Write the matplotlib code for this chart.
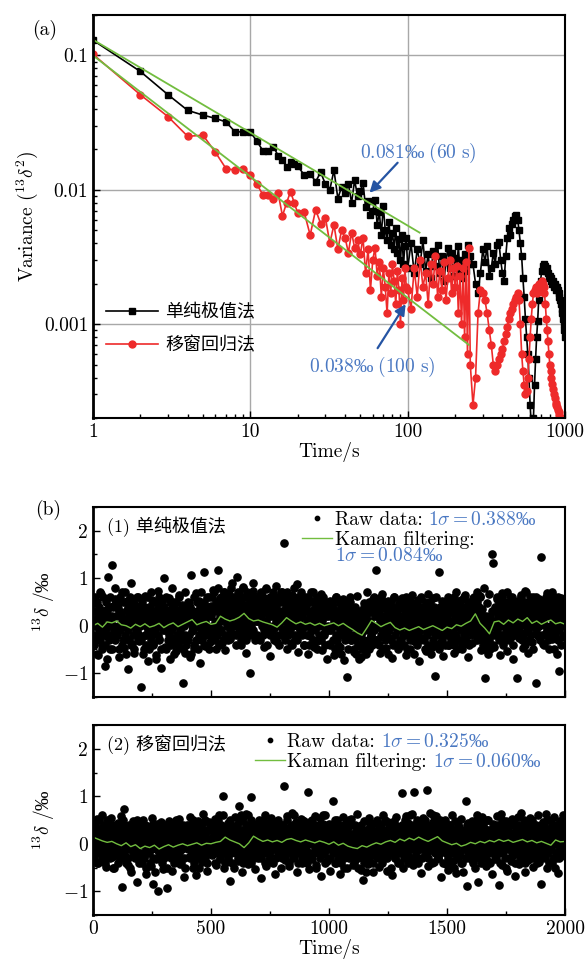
import numpy as np
import matplotlib.pyplot as plt
from matplotlib.ticker import NullFormatter, MultipleLocator, LogLocator

plt.rcParams['font.family'] = ['cmr10', 'DejaVu Serif', 'Noto Sans CJK SC']
plt.rcParams['mathtext.fontset'] = 'cm'
plt.rcParams['axes.formatter.use_mathtext'] = True
plt.rcParams['axes.unicode_minus'] = False

PERMIL_FONT = ['Liberation Serif', 'DejaVu Serif']

# ---- (a) Allan variance, values in units of 1e-3 ----
tau = np.concatenate([np.arange(1, 21), np.arange(22, 101, 2),
                      np.arange(105, 251, 5), np.arange(260, 1001, 10)])

black_e3 = [130, 76, 51, 39, 36, 34, 32, 27, 27, 27, 23, 19.6, 19.6, 21, 18, 16.7, 14.8, 16, 15.5, 15,
            12.9, 13.2, 11.5, 13.5, 11.0, 10.0, 14.0, 8.6, 10.5, 9.5, 11.0, 8.0, 11.8, 9.0, 9.8, 11.2,
            7.5, 8.2, 6.5, 7.0, 8.4, 5.5, 6.8, 4.6, 7.6, 5.0, 4.2, 5.8, 3.9, 4.8, 3.6, 5.2, 3.4, 4.3,
            3.0, 4.6, 2.8, 3.8, 4.4, 2.6,
            4.0, 2.4, 3.6, 2.8, 4.2, 2.5, 3.3, 2.2, 3.5, 2.7, 3.9, 2.4, 3.2, 2.1, 2.9, 3.7, 2.6, 3.4,
            2.3, 3.1, 2.6, 3.8, 2.4, 3.0, 2.2, 3.3, 2.5, 3.9, 2.8, 3.2,
            2.8, 2.0, 1.7, 2.4, 3.6, 2.9, 3.8, 2.3, 2.6, 3.4, 2.8, 3.9, 4.1, 3.0, 2.4, 2.1, 3.2, 4.4,
            5.2, 4.6, 5.6, 6.0, 6.4, 6.5, 6.0, 5.0, 4.0, 3.2, 2.2, 1.6, 1.1, 0.8, 0.6, 0.4, 0.25, 0.18,
            0.15, 0.2, 0.35, 0.55, 0.8, 1.05, 1.5, 1.9, 2.1, 2.5, 2.7, 2.8, 2.6, 2.7, 2.5, 2.6, 2.4,
            2.2, 2.3, 2.1, 2.2, 2.0, 2.1, 1.9, 2.0, 1.9, 1.8, 1.9, 1.8, 1.7, 1.6, 1.5, 1.4, 1.3, 1.2,
            1.1, 1.0, 0.9, 0.8]

red_e3 = [102, 51, 35, 25, 25.5, 19, 14.4, 14, 14.4, 12.9, 11, 9.2, 9.2, 8.6, 9.5, 6.4, 8.0, 9.7, 8.0, 6.7,
          6.8, 4.6, 7.1, 5.6, 6.2, 4.0, 5.5, 3.6, 5.0, 4.4, 3.4, 4.8, 3.7, 4.2, 3.3, 4.4, 2.4, 3.6,
          1.8, 3.0, 3.7, 2.3, 2.9, 1.6, 2.6, 1.9, 1.2, 2.4, 1.7, 2.8, 2.1, 1.4, 2.5, 1.8, 1.0, 2.2,
          1.5, 2.6, 1.9, 1.8,
          1.3, 2.6, 1.6, 3.0, 1.9, 2.4, 1.4, 2.8, 2.0, 3.2, 1.6, 2.5, 1.8, 2.9, 1.5, 2.2, 3.0, 1.7,
          2.6, 1.9, 2.7, 1.2, 2.3, 1.0, 2.6, 0.8, 2.9, 0.6, 3.7, 0.5,
          0.25, 0.4, 1.2, 1.8, 1.7, 1.5, 1.2, 0.9, 0.7, 0.5, 0.45, 0.5, 0.55, 0.6, 0.65, 0.75, 0.85,
          0.95, 1.1, 1.2, 1.3, 1.4, 1.5, 1.6, 1.7, 1.5, 1.0, 0.6, 0.45, 0.35, 0.3, 0.32, 0.4, 0.55,
          0.8, 1.1, 1.4, 1.7, 1.8, 1.9, 1.7, 1.9, 2.0, 1.9, 2.0, 2.1, 2.0, 1.9, 1.7, 1.4, 1.1, 0.9,
          0.75, 0.6, 0.5, 0.45, 0.4, 0.36, 0.33, 0.3, 0.28, 0.26, 0.25, 0.24, 0.23, 0.22, 0.21, 0.2,
          0.2, 0.19, 0.19, 0.18, 0.18, 0.17, 0.17]

fit_tau_black = [1, 119]
fit_var_black = [0.131, 0.0048]
fit_tau_red = [1, 245]
fit_var_red = [0.1, 0.0007]

# ---- (b) raw data: set A in hundredths of permil, set B in tenths ----
raw1 = [12, -35, 48, 5, -62, 27, -8, 66, -41, 19, -85, 33, -22, 103, -50, 9, 128, 41, -28, 57,
        -14, 38, -66, 22, -3, 71, -47, 15, -29, 52, -91, 8, 90, -38, 26, -57, 44, -12, 61, -33,
        4, -130, 35, -48, 62, -20, 17, -74, 40, -6, 55, -39, 24, -61, 11, 73, -27, 46, -88, 30,
        100, -44, 21, -9, 58, -70, 36, -25, 49, 2, -53, 28, -37, 64, -16, 43, -120, 18, -58, 33,
        -21, 47, -65, 107, -11, 31, -46, 69, -30, 14, 52, -78, 25, -4, 113, -43, 38, -18, 60, -35,
        41, -23, 76, 8, -49, 33, 117, -14, 58, -36, 22, 70, -52, 45, 3, 66, -29, 39, 90, -18,
        52, -40, 103, 24, 67, -31, 45, 81, -6, 36, -58, 62, 14, -100, 49, 28, 73, -21, 57, 10,
        35, -27, 68, 12, 54, -44, 29, 77, -10, 48, -63, 21, 60, -5, 39, 84, -35, 26, 53, -19,
        70, -12, 175, 31, -48, 57, 6, 42, -37, 65, 18, -29, 51, 88, -55, 24, 63, -8, 37, -41,
        46, 12, -60, 55, -22, 71, 30, -45, 16, 59, -33, 38, 3, 66, -51, 27, -16, 44, -70, 20,
        -38, 53, -9, 34, -62, 25, 60, -27, 13, -44, 41, -15, 57, -72, 22, -107, 37, -4, 49, -31,
        18, -55, 40, -24, 63, -40, 9, -66, 31, -12, 48, -35, 70, 2, -48, 29, -21, 56, -8, 36,
        118, -30, 45, -58, 21, 67, -14, 39, -46, 8, 53, -25, 34, -69, 16, 60, -38, 27, -3, 50,
        -42, 14, 58, -20, 33, -61, 47, -7, 26, -50, 64, 11, -33, 42, -17, 55, -74, 30, -2, 38,
        -26, 49, -53, 20, 66, -12, 35, -44, 58, 4, -105, 31, -19, 113, -36, 24, 51, -64, 15, 43,
        -9, 61, -40, 28, -22, 47, -57, 13, 70, -31, 37, -4, 54, -48, 22, 65, -15, 40, -66, 32,
        18, -37, 59, -11, 44, 72, -28, 25, 63, -52, 36, 80, -110, 9, 48, -20, 67, -41, 152, 132,
        -45, 30, 56, -18, 41, -62, 14, 69, -33, 48, 2, -54, 37, 60, -23, 27, -71, 45, -9, -110,
        52, -26, 38, 64, -47, 19, 73, -13, 35, -58, 46, 8, -34, 61, 24, -120, 43, -21, 57, 16,
        144, -38, 30, 55, -16, 68, -49, 22, 40, -29, 63, -5, 35, -60, 47, -95, 20, 58, -24, 33]

raw1_b = [3, -4, 1, 6, -2, 0, 5, -6, 2, -1, 4, -3, 7, 1, -5, 3, -2, 6, 0, -4, 2, 5, -1, -7, 3, 0, 4, -3, 1, 6, -2, 2, -5, 4, 0, -1, 8, -3, 2, 5,
          -2, 4, 0, -5, 3, 6, -1, 2, -4, 1, 5, -3, 0, 7, -2, 3, -6, 1, 4, -1, 2, -3, 6, 0, -4, 3, 1, -2, 5, -5, 2, 4, -1, 0, 6, -3, 3, -2, 1, 4,
          0, -3, 5, 2, -6, 1, 4, -2, 3, -4, 0, 6, -1, 2, -5, 4, 1, -3, 7, -2, 3, 0, -4, 5, -1, 2, -7, 3, 1, -2, 4, 6, -3, 0, 2, -5, 5, 1, -1, 3,
          4, -1, 2, -5, 6, 0, -3, 3, 1, -2, 5, -4, 2, 8, -1, 0, -6, 4, 2, -3, 1, 5, -2, 3, -4, 0, 6, -1, 2, -3, 4, 1, -5, 3, 0, -2, 7, -4, 2, 1,
          -3, 5, 1, -2, 4, -6, 2, 0, 3, -1, 6, -4, 1, 2, -3, 5, 0, -5, 3, 1, -2, 4, -1, 7, 0, -3, 2, 5, -4, 1, 3, -2, 6, -1, 0, 4, -5, 2, 3, -1,
          2, 6, -1, 4, 0, 7, -3, 3, 5, -2, 1, 8, 0, -4, 4, 2, 6, -1, 3, -3, 5, 1, 7, -2, 2, 4, 0, 6, -3, 3, 1, 5, -1, 8, 2, -2, 4, 0, 6, 3,
          5, 1, -2, 6, 3, 0, 7, -1, 4, 2, -4, 5, 1, 8, -2, 3, 6, 0, 4, -3, 2, 7, 1, -1, 5, 3, -2, 6, 0, 4, 9, -1, 2, 5, -3, 3, 1, 6, -2, 4,
          1, 4, -3, 5, 2, 7, 0, -2, 6, 3, -1, 4, 8, 1, -4, 3, 5, 0, 2, -2, 6, 4, -1, 3, 7, 0, -3, 5, 2, 1, 4, -2, 6, 3, 0, -4, 5, 2, 7, 1,
          3, -1, 5, 2, 6, -3, 1, 4, 0, 7, -2, 3, 5, -1, 2, 6, 0, -4, 4, 1, 3, 8, -2, 2, 5, 0, -3, 6, 1, 4, -1, 3, 7, -2, 2, 0, 5, -4, 3, 6,
          0, 4, -2, 3, 6, 1, -4, 2, 5, -1, 3, 0, 7, -3, 2, 4, -1, 5, 1, -5, 3, 6, 0, -2, 4, 2, -3, 5, 1, 0, 6, -2, 3, -4, 2, 4, -1, 5, 0, 3,
          -1, 3, -4, 2, 5, 0, -3, 4, 1, -5, 2, 6, -2, 0, 3, -4, 1, 5, -1, 2, -6, 3, 0, 4, -2, 1, -3, 5, 2, -1, 4, -5, 0, 3, -2, 6, 1, -3, 2, 0,
          -2, 1, -5, 3, -3, 0, -6, 2, -1, -4, 1, -7, 3, -2, 0, -5, 2, -3, 4, -1, -4, 1, -6, 2, 0, -3, 3, -1, 5, 1, -2, 4, 0, -4, 3, 6, -1, 2, -3, 5,
          2, -3, 5, 0, -4, 3, 1, -2, 6, -1, 2, -5, 4, 0, -3, 5, 1, -2, 3, -6, 2, 4, -1, 0, 5, -3, 1, 3, -4, 2, 6, -2, 0, 4, -1, 3, -5, 2, 1, -3,
          -1, 4, -3, 2, 0, 5, -4, 1, 3, -2, 6, 0, -5, 2, 4, -1, 3, -3, 1, 5, -2, 0, 4, -6, 2, 1, -1, 3, -4, 5, 0, -2, 4, 1, -3, 2, 6, -1, 0, 3,
          -3, 2, 0, -5, 4, 1, -2, 3, -4, 0, 5, -1, 2, -6, 3, 1, -3, 4, 0, -2, 6, -1, 2, -4, 3, 0, -5, 4, 1, -2, 3, -3, 5, 0, -1, 2, -4, 3, 1, -2,
          2, -4, 3, 0, -2, 5, 1, -3, 4, -1, 0, 6, -4, 2, -2, 3, -5, 1, 4, 0, -3, 2, 5, -1, 1, -4, 3, 0, 6, -2, 2, -3, 4, 1, -1, 5, -4, 0, 3, 2,
          1, 3, -2, 5, 0, 4, 6, -1, 3, 2, -3, 5, 1, 4, -2, 6, 0, 3, -1, 2, -4, 1, -3, 0, -5, 2, -2, -4, 1, -6, -1, -3, 2, -5, 0, -2, 3, -4, 1, 0,
          4, -2, 3, 1, 6, -1, 2, 5, -3, 4, 0, 3, -2, 6, 1, -4, 5, 2, 0, -1, 4, 7, -2, 3, 1, -3, 5, 0, 2, 6, -1, 4, -4, 3, 1, 5, -2, 2, 0, 4,
          2, 5, -1, 3, 0, 6, -3, 4, 1, -2, 5, 2, -4, 3, 7, 0, -1, 4, 2, -3, 6, 1, -2, 5, 3, 0, -5, 4, 1, 2, -1, 6, 3, -2, 4, 0, 5, -3, 2, 1,
          3, -2, 5, 1, -4, 4, 2, 0, 6, -1, 3, -3, 5, 2, -2, 4, 0, 7, -1, 1, -5, 3, 5, -2, 2, 0, 4, -3, 6, 1, -1, 3, -4, 2, 5, 0, -2, 4, 1, 3]

raw2 = [45, -22, 18, 52, -40, 9, 31, -15, 60, -33, 24, -48, 13, 40, -5, 55, -28, 20, -52, 35,
        -12, 44, -30, 16, 58, -92, 73, -25, 37, 2, -44, 29, -60, 21, 48, -17, 34, -80, 11, 42,
        -35, 19, 50, -26, 8, -63, 38, -10, 27, -47, 55, -85, 14, -31, 41, -100, 23, -18, 46, -54,
        17, 36, -21, -94, 49, -8, 30, -57, 12, 43, -36, 25, -14, 52, -42, 6, 39, -70, 22, -3,
        34, -28, 57, -11, 20, -50, 41, -66, 15, 48, -20, 31, -39, 62, 4, -30, 26, -58, 45, -9,
        38, -24, 18, 53, -45, 27, -13, 60, -33, 11, 100, -51, 36, -19, 44, -7, -78, 30, -40, 25,
        56, -16, 39, -37, 80, 22, -60, 47, -27, 14, 63, -43, 33, -11, 98, -22, 41, -54, 28, 9,
        -30, 50, -72, 24, 37, -18, 61, -46, 19, 43, -9, 55, -38, 32, -64, 12, 46, -24, 29, -50,
        40, -15, 122, -34, 58, 21, -47, 35, -6, 64, -28, 17, 45, -59, 26, -19, 52, -41, 13, 48,
        -25, 36, 108, -53, 20, 47, -32, 9, 59, -44, 30, -12, 54, -67, 23, 41, -21, 60, -36, 15,
        42, -58, 28, 90, -17, 50, -40, 18, 35, -63, 24, -8, 57, -29, 44, -50, 12, 38, -23, 53,
        -45, 16, 40, -31, 62, -20, 34, -55, 22, -76, 47, -12, 29, -42, 55, -7, 37, -60, 19, 44,
        -26, 51, -48, 13, 39, -35, 60, -10, 27, -57, 45, -19, 32, -66, 20, 48, -30, 56, -14, 36,
        -40, 24, 106, -52, 31, 58, -16, 43, -28, 14, 62, -45, 108, 21, -33, 49, -8, 35, -61, 27,
        55, -22, 38, 114, -47, 30, 64, -13, 46, -38, 25, 59, -29, 17, 42, -70, 33, -5, 51, -43,
        28, -55, 40, -18, 61, -36, 22, 47, -62, 15, 36, -24, 53, -41, 19, -8, 90, -88, 44, 26,
        -33, 49, -15, 37, -52, 60, -80, 24, 43, -27, 56, -11, 32, -46, 18, 50, -38, 29, -63, 41,
        13, -31, 58, -20, -86, 39, 63, -44, 26, -9, 48, -57, 34, 16, -36, 52, -23, 44, -68, 30,
        57, -42, 21, 64, -25, 38, -59, 12, 47, -34, 55, -16, 29, -49, 40, 8, -27, 61, -38, 24,
        -84, 45, -19, 33, 62, -52, 27, -11, 50, -40, 18, 56, -30, 39, -62, 22, 47, -26, 60, 35]

raw2_b = [2, -3, 1, 4, -1, 0, 3, -4, 2, -2, 5, 0, -1, 3, -3, 1, 4, -2, 0, 2, -4, 3, 1, -1, 5, -2, 0, 2, -3, 4, 1, -1, 3, -5, 2, 0, 4, -2, 1, 3,
          -1, 2, -4, 0, 3, 1, -2, 4, -3, 1, 0, 5, -2, 2, -1, 3, -4, 0, 2, -3, 4, 1, -1, -5, 2, 0, 3, -2, 1, 4, -3, 0, 2, -1, 5, -2, 1, -4, 3, 0,
          1, -2, 3, -4, 0, 2, -3, 1, 4, -1, -5, 2, 0, 3, -2, 1, -4, 2, -1, 4, 0, -3, 2, 1, -6, 3, -1, 0, 2, -3, 4, -2, 1, -1, 3, 0, -4, 2, -2, 1,
          -3, 2, 0, 4, -1, -5, 3, 1, -2, 2, 0, -3, 4, 1, -1, 3, -4, 0, 2, -2, 5, -1, 1, -3, 3, 0, -2, 4, -4, 1, 2, -1, 0, 3, -3, 1, -5, 2, 0, 4,
          2, -1, 4, 0, -3, 1, 3, -2, 0, 5, -4, 2, 1, -1, 3, -3, 0, 4, -2, 1, -5, 2, 3, -1, 0, 4, -3, 1, -2, 2, 5, -1, 0, -4, 3, 1, -2, 4, 0, -1,
          1, 3, -2, 0, 4, -1, 2, -4, 1, 3, 0, -2, 5, 1, -3, 2, 0, 4, -1, 6, 1, -2, 3, 0, -4, 2, 1, -1, 3, -3, 2, 5, 0, -2, 4, 1, -1, 3, -5, 2,
          3, 0, -2, 4, 1, -3, 2, 5, -1, 0, 6, -2, 3, 1, -4, 2, 0, -1, 4, 2, -3, 1, 6, 0, -2, 3, 1, -4, 5, 0, 2, -1, 3, -3, 1, 4, -2, 0, 2, 1,
          0, 4, -1, 2, -3, 1, 3, -2, 5, 0, 1, -4, 2, 3, -1, 4, 0, -3, 2, 1, -2, 5, 0, 3, -4, 1, 2, -1, 4, 0, -3, 2, 1, 5, -2, 0, 3, -1, 2, -3,
          2, -2, 4, 1, 0, -3, 3, 1, -1, 5, 0, -4, 2, 3, -2, 1, 4, 0, -3, 2, 6, -1, 1, 3, -2, 0, 4, -4, 2, 1, -1, 3, 0, 5, -3, 2, -1, 4, 0, 1,
          -1, 3, 0, -4, 2, 4, -2, 1, 3, -3, 0, 5, 1, -2, 2, -1, 4, 0, -5, 3, 1, -2, 4, 0, 2, -3, 1, 3, -1, 6, 0, -2, 2, -4, 1, 3, 0, -1, 4, 2,
          0, -3, 2, 1, -1, 4, -2, 0, 3, -4, 1, 2, -1, 5, -3, 0, 2, -2, 4, 1, -4, 3, 0, -1, 2, -5, 1, 4, -2, 0, 3, -1, 1, -3, 5, 0, -2, 2, 1, -1,
          -2, 1, -4, 2, 0, -3, 3, -1, 1, -5, 2, 0, -2, 4, -1, -3, 1, 3, -4, 0, 2, -2, 1, -6, 3, 0, -1, 2, -3, 4, 1, -2, 0, 3, -4, 1, 2, -1, 0, 2,
          1, -2, 3, 0, -3, 2, 4, -1, 1, -4, 3, 0, 2, -2, 5, -1, 0, 3, -3, 1, -1, 4, 0, -2, 2, -5, 3, 1, -1, 2, 0, -3, 4, 1, -2, 3, 0, -4, 2, 1,
          2, 0, -2, 4, 1, -1, 3, -3, 5, 0, 2, -2, 4, 1, -4, 3, 0, 6, -1, 2, 1, -3, 4, 0, 3, -1, 2, -2, 5, 1, -4, 3, 0, 2, -1, 4, 1, -3, 2, 0,
          3, -1, 2, 5, 0, -2, 4, 1, -3, 3, 0, 2, -1, 4, -4, 1, 6, 0, 2, -2, 3, 1, -1, 4, 0, -3, 2, 5, -2, 1, 0, 3, -4, 2, 1, -1, 4, 0, -2, 3,
          0, 2, -3, 1, 4, -1, -4, 2, 0, 3, -2, 1, -5, 3, 0, -1, 2, -3, 4, 1, -2, 0, 3, -4, 1, 2, -6, 0, 2, -1, 3, 1, -3, 0, 4, -2, 1, 2, -1, 0,
          1, -2, 3, 0, -4, 2, -1, 4, 1, -3, 0, 3, -2, 5, 1, -1, 2, -4, 3, 0, -2, 4, 1, -1, 2, -3, 0, 5, -2, 1, 3, -1, 0, -4, 2, 1, -2, 3, 0, 2,
          -1, 3, 0, -3, 2, 4, -2, 1, 0, -4, 3, 1, -1, 5, 0, -2, 2, -3, 4, 1, -5, 2, 0, 3, -1, 1, -3, 4, 0, 2, -2, 1, 5, -1, 0, -4, 3, 1, -2, 2,
          2, -1, 4, 0, -3, 1, 3, -2, 2, 0, 5, -4, 1, 2, -1, 3, 0, -3, 4, 1, -2, 2, 0, 5, -3, 1, -1, 3, 0, -2, 4, 1, -4, 2, 0, 3, -1, 1, -3, 4,
          0, 3, -2, 1, 4, -3, 2, 0, -1, 5, -2, 1, 3, -4, 0, 2, -1, 4, 1, -3, 2, 0, -5, 3, 1, -2, 4, 0, 2, -1, -3, 1, 3, 0, -2, 5, -1, 2, 0, 3]

kal1 = [0.0, 0.05, -0.03, 0.08, 0.06, 0.1, 0.02, 0.0, -0.05, 0.03, -0.02, 0.04, -0.03, 0.0, 0.05,
        -0.04, 0.02, 0.06, -0.02, 0.03, 0.08, 0.13, 0.02, 0.06, 0.09, 0.03, 0.05, 0.2, 0.14, 0.1,
        0.13, 0.18, 0.26, 0.15, 0.1, 0.12, 0.08, 0.05, 0.02, -0.03, 0.06, 0.17, 0.1, 0.04, 0.08,
        0.03, 0.06, 0.01, 0.05, 0.0, 0.03, 0.06, 0.0, 0.05, -0.02, -0.08, -0.15, -0.2, -0.05, 0.11,
        0.05, -0.02, 0.03, 0.07, -0.04, -0.09, -0.05, -0.1, -0.06, -0.02, -0.08, -0.04, 0.0, -0.05,
        -0.1, -0.03, -0.06, 0.02, -0.01, 0.05, 0.1, 0.25, 0.05, -0.05, -0.17, 0.08, 0.1, 0.03, 0.12,
        0.06, 0.14, 0.09, 0.17, 0.05, 0.1, 0.03, 0.08, 0.12, 0.04, 0.07, 0.03]

kal2 = [0.14, 0.1, 0.06, 0.03, 0.05, 0.0, -0.04, 0.02, -0.06, -0.02, -0.1, -0.05, -0.08, -0.03,
        -0.11, -0.06, -0.02, -0.07, -0.03, 0.0, -0.04, -0.01, 0.02, -0.03, 0.01, 0.0, 0.03, 0.05,
        0.14, 0.08, 0.04, 0.0, -0.08, 0.02, 0.16, 0.1, 0.05, 0.08, 0.04, 0.07, 0.03, 0.09, 0.11,
        0.07, 0.04, 0.08, 0.05, 0.02, 0.06, 0.03, -0.01, 0.04, -0.03, 0.01, -0.05, -0.08, -0.1,
        -0.04, -0.07, -0.02, 0.02, -0.01, 0.04, 0.07, 0.03, 0.1, 0.06, 0.12, 0.08, 0.14, 0.09, 0.05,
        0.1, 0.15, 0.06, 0.02, -0.02, 0.01, -0.05, -0.02, 0.03, 0.0, 0.05, 0.02, 0.07, 0.04, 0.09,
        0.05, 0.08, 0.03, 0.06, 0.09, 0.04, 0.07, 0.02, 0.05, 0.01, -0.03, 0.08, 0.04, 0.05]

BLUE = '#4a78c2'
DBLUE = '#2554a3'
GREEN = '#72bd3f'
FS = 14

fig = plt.figure(figsize=(5.86, 9.64), dpi=100)


def style(ax):
    for s in ax.spines.values():
        s.set_linewidth(1.5)
    ax.spines['left'].set_linewidth(2)
    ax.tick_params(which='both', direction='in', labelsize=FS, width=1)
    ax.tick_params(which='major', length=5)
    ax.tick_params(which='minor', length=3)


# ---------- (a) ----------
ax = fig.add_axes([0.1587, 0.5664, 0.8055, 0.418])
n = min(len(tau), len(black_e3))
ax.plot(tau[:n], np.array(black_e3[:n]) * 1e-3, '-s', color='black', lw=1.2, ms=4.5,
        label='单纯极值法')
n = min(len(tau), len(red_e3))
ax.plot(tau[:n], np.array(red_e3[:n]) * 1e-3, '-o', color='#ee2a2a', lw=1.2, ms=5,
        label='移窗回归法')
ax.plot(fit_tau_black, fit_var_black, color=GREEN, lw=1.3)
ax.plot(fit_tau_red, fit_var_red, color=GREEN, lw=1.3)
ax.set_xscale('log')
ax.set_yscale('log')
ax.set_xlim(1, 1000)
ax.set_ylim(2e-4, 0.2)
ax.set_xticks([1, 10, 100, 1000], labels=['1', '10', '100', '1000'])
ax.set_yticks([0.001, 0.01, 0.1], labels=['0.001', '0.01', '0.1'])
ax.xaxis.set_minor_locator(LogLocator(subs=np.arange(2, 10)))
ax.yaxis.set_minor_locator(LogLocator(subs=np.arange(2, 10)))
ax.xaxis.set_minor_formatter(NullFormatter())
ax.yaxis.set_minor_formatter(NullFormatter())
ax.grid(True, which='major', color='#a8a8a8', lw=1)
ax.set_axisbelow(True)
style(ax)
ax.set_xlabel('Time/s', fontsize=FS, labelpad=1)
ax.set_ylabel(r'Variance ($^{13}\delta^2$)', fontsize=FS, labelpad=3)
ax.legend(loc='lower left', bbox_to_anchor=(0.0, 0.13), frameon=False, fontsize=13,
          handlelength=2.9, handletextpad=0.4, labelspacing=0.85, borderpad=0.2)

ax.text(117, 0.0189, r'$0.081$‰ $(60\ \mathrm{s})$', color=BLUE, ha='center', va='center',
        fontsize=FS, family=PERMIL_FONT)
ax.annotate('', xy=(57.2, 0.0095), xytext=(86.3, 0.0159),
            arrowprops=dict(arrowstyle='-|>', color=DBLUE, lw=1.6, mutation_scale=16,
                            shrinkA=0, shrinkB=0))
ax.text(59.8, 0.000478, r'$0.038$‰ $(100\ \mathrm{s})$', color=BLUE, ha='center', va='center',
        fontsize=FS, family=PERMIL_FONT)
ax.annotate('', xy=(97.1, 0.00141), xytext=(64.4, 0.000662),
            arrowprops=dict(arrowstyle='-|>', color=DBLUE, lw=1.6, mutation_scale=16,
                            shrinkA=0, shrinkB=0))
fig.text(0.077, 0.969, '(a)', fontsize=FS, ha='center', va='center')

# ---------- (b) ----------
panels = [
    (0.2770, raw1, raw1_b, kal1, '(1) 单纯极值法', r'$1\sigma=0.388$‰', r'$1\sigma=0.084$‰',
     0.443, 0.979),
    (0.0508, raw2, raw2_b, kal2, '(2) 移窗回归法', r'$1\sigma=0.325$‰', r'$1\sigma=0.060$‰',
     0.343, 0.958),
]
for k, (bottom, raw, raw_b, kal, title, s_raw, s_kal, lx, ly) in enumerate(panels):
    axb = fig.add_axes([0.1587, bottom, 0.8055, 0.1971])
    t_raw = np.linspace(0, 1995, len(raw))
    t_raw_b = np.linspace(1.25, 1998.75, len(raw_b))
    axb.plot(t_raw_b, np.array(raw_b) / 10.0, 'o', color='black', ms=5.2, ls='none')
    axb.plot(t_raw, np.array(raw) / 100.0, 'o', color='black', ms=5.2, ls='none',
             label='Raw data:')
    t_kal = np.linspace(0, 2000, len(kal))
    axb.plot(t_kal, kal, color=GREEN, lw=1.0, label='Kaman filtering:')
    axb.set_xlim(0, 2000)
    axb.set_ylim(-1.5, 2.5)
    axb.set_yticks([-1, 0, 1, 2], labels=['$-1$', '0', '1', '2'])
    axb.yaxis.set_minor_locator(MultipleLocator(0.5))
    axb.xaxis.set_minor_locator(MultipleLocator(250))
    axb.set_xticks([0, 500, 1000, 1500, 2000])
    style(axb)
    axb.set_ylabel(r'$^{13}\delta\ /$‰', fontsize=FS, labelpad=4, family=PERMIL_FONT)
    if k == 0:
        axb.set_xticklabels([])
    else:
        axb.set_xticklabels(['0', '500', '1000', '1500', '2000'])
        axb.set_xlabel('Time/s', fontsize=FS, labelpad=1)
    axb.text(0.03, 0.895, title, transform=axb.transAxes, fontsize=13, ha='left', va='center')
    leg = axb.legend(loc='upper left', bbox_to_anchor=(lx, ly), frameon=False, fontsize=FS,
                     handlelength=1.55, handletextpad=0.12, labelspacing=0.1, borderpad=0,
                     borderaxespad=0, markerscale=0.6)
    texts = leg.get_texts()
    axb.annotate(s_raw, xy=(1, 0.5), xycoords=texts[0], xytext=(4, 0),
                 textcoords='offset points', va='center', ha='left', color=BLUE,
                 fontsize=FS, zorder=6, family=PERMIL_FONT)
    if k == 0:
        axb.annotate(s_kal, xy=(0, 0), xycoords=texts[1], xytext=(0, 1),
                     textcoords='offset points', va='top', ha='left', color=BLUE,
                     fontsize=FS, zorder=6, family=PERMIL_FONT)
    else:
        axb.annotate(s_kal, xy=(1, 0.5), xycoords=texts[1], xytext=(4, 0),
                     textcoords='offset points', va='center', ha='left', color=BLUE,
                     fontsize=FS, zorder=6, family=PERMIL_FONT)

fig.text(0.082, 0.471, '(b)', fontsize=FS, ha='center', va='center')

fig.canvas.draw()
fig.savefig('out.png', dpi=100)
